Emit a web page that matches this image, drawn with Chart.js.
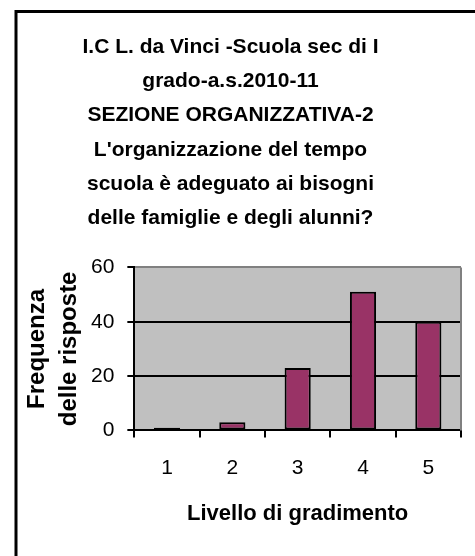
<!DOCTYPE html>
<html>
<head>
<meta charset="utf-8">
<script src="https://cdn.jsdelivr.net/npm/chart.js@4.4.1/dist/chart.umd.min.js"></script>
<style>
  html, body { margin: 0; padding: 0; background: #ffffff; }
  #wrap { width: 475px; height: 556px; position: relative; }
</style>
</head>
<body>
<div id="wrap"><canvas id="c" width="475" height="556"></canvas></div>
<script>
// ---- data ----
const categories = ["1", "2", "3", "4", "5"];
const frequencies = [1, 3, 23, 51, 40];
const yTicks = [0, 20, 40, 60];
const titleLines = [
  "I.C L. da Vinci -Scuola sec di I",
  "grado-a.s.2010-11",
  "SEZIONE ORGANIZZATIVA-2",
  "L'organizzazione del tempo",
  "scuola è adeguato ai bisogni",
  "delle famiglie e degli alunni?"
];
const yTitleLines = ["Frequenza", "delle risposte"];
const xTitle = "Livello di gradimento";

const FONT = "'Liberation Sans', Arial, sans-serif";

const decor = {
  id: 'decor',
  beforeDraw(chart) {
    const ctx = chart.ctx;
    const a = chart.chartArea;
    ctx.save();
    ctx.fillStyle = '#ffffff';
    ctx.fillRect(0, 0, chart.width, chart.height);
    ctx.strokeStyle = '#000000';
    ctx.lineWidth = 3;
    ctx.beginPath();
    ctx.moveTo(16, chart.height + 5);
    ctx.lineTo(16, 11.5);
    ctx.lineTo(chart.width + 5, 11.5);
    ctx.stroke();
    ctx.fillStyle = '#C0C0C0';
    ctx.fillRect(a.left, a.top, a.right - a.left, a.bottom - a.top);
    ctx.restore();
  },
  beforeDatasetsDraw(chart) {
    const ctx = chart.ctx;
    const a = chart.chartArea;
    ctx.save();
    ctx.strokeStyle = '#808080';
    ctx.lineWidth = 2;
    ctx.beginPath();
    ctx.moveTo(a.right, a.top);
    ctx.lineTo(a.right, a.bottom);
    ctx.stroke();
    ctx.restore();
  }
};

new Chart(document.getElementById('c'), {
  type: 'bar',
  data: {
    labels: categories,
    datasets: [{
      data: frequencies,
      backgroundColor: '#993366',
      borderColor: '#000000',
      borderWidth: 2,
      borderSkipped: false,
      categoryPercentage: 1.0,
      barPercentage: 0.4
    }]
  },
  options: {
    responsive: false,
    animation: false,
    devicePixelRatio: 1,
    layout: { padding: { left: 0, right: 14, top: 0, bottom: 29 } },
    plugins: {
      legend: { display: false },
      tooltip: { enabled: false },
      title: {
        display: true,
        text: titleLines,
        color: '#000000',
        font: { family: FONT, size: 21, weight: 'bold', lineHeight: 1.63 },
        padding: { top: 30, bottom: 32 }
      }
    },
    scales: {
      x: {
        grid: {
          display: true,
          offset: true,
          drawOnChartArea: false,
          drawTicks: true,
          tickLength: 7,
          color: '#000000',
          lineWidth: 2
        },
        border: { display: true, color: '#000000', width: 2 },
        ticks: {
          color: '#000000',
          font: { family: FONT, size: 21 },
          padding: 18
        },
        title: {
          display: true,
          text: xTitle,
          color: '#000000',
          font: { family: FONT, size: 22, weight: 'bold', lineHeight: 1.2 },
          padding: { top: 2, bottom: 0 }
        }
      },
      y: {
        min: yTicks[0],
        max: yTicks[yTicks.length - 1],
        afterBuildTicks(scale) { scale.ticks = yTicks.map(v => ({ value: v })); },
        grid: {
          drawTicks: true,
          tickLength: 7,
          tickColor: '#000000',
          lineWidth: 2,
          color: (c) => (c.tick && c.tick.value === yTicks[yTicks.length - 1]) ? '#808080' : '#000000'
        },
        border: { display: true, color: '#000000', width: 2 },
        ticks: {
          color: '#000000',
          font: { family: FONT, size: 21 },
          padding: 13
        },
        title: {
          display: true,
          text: yTitleLines,
          color: '#000000',
          font: { family: FONT, size: 24, weight: 'bold', lineHeight: 1.333 },
          padding: { top: 21, bottom: -7 }
        }
      }
    }
  },
  plugins: [decor]
});
</script>
</body>
</html>
